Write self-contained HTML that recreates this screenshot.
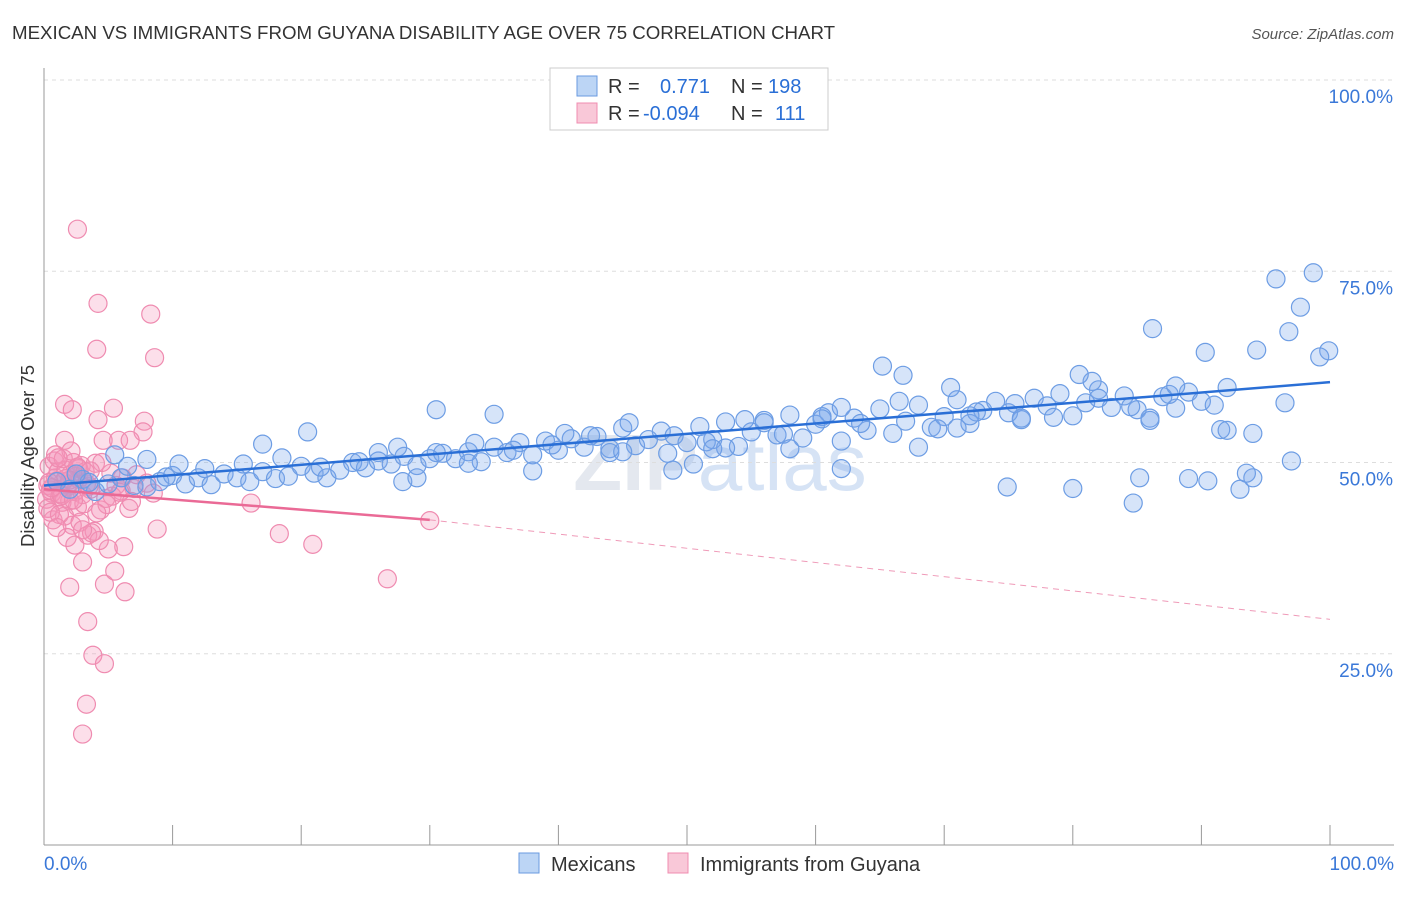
<!DOCTYPE html>
<html><head><meta charset="utf-8"><style>
body{margin:0;background:#fff;font-family:"Liberation Sans",sans-serif;}
svg text{font-family:"Liberation Sans",sans-serif;}
</style></head><body>
<svg id="chart" width="1406" height="892" xmlns="http://www.w3.org/2000/svg">
<text x="12" y="39" font-size="18.7" fill="#333">MEXICAN VS IMMIGRANTS FROM GUYANA DISABILITY AGE OVER 75 CORRELATION CHART</text>
<text x="1394" y="39" font-size="15" fill="#555" font-style="italic" text-anchor="end">Source: ZipAtlas.com</text>
<text x="34" y="456" font-size="18.5" fill="#333" text-anchor="middle" transform="rotate(-90 34 456)">Disability Age Over 75</text>
<text x="720" y="490" font-size="80" fill="#e4e8ef" text-anchor="middle" font-weight="bold">ZIP<tspan fill="#d6e3f5" font-weight="normal">atlas</tspan></text>
<g id="grid"></g><g id="axes"></g><g id="pinkpts"></g><g id="bluepts"></g><g id="lines"></g>
<g>
<rect x="550" y="68" width="278" height="62" fill="#fff" stroke="#ccc"/>
<rect x="577" y="76" width="20" height="20" fill="#bcd5f5" stroke="#6a9ae0"/>
<rect x="577" y="103" width="20" height="20" fill="#f9c8d8" stroke="#f08cb0"/>
<text x="608" y="93" font-size="20" fill="#333">R = <tspan x="660" fill="#2a6fd6">0.771</tspan><tspan x="731" fill="#333">N =</tspan><tspan x="768" fill="#2a6fd6">198</tspan></text>
<text x="608" y="120" font-size="20" fill="#333">R = <tspan x="643" fill="#2a6fd6">-0.094</tspan><tspan x="731" fill="#333">N =</tspan><tspan x="775" fill="#2a6fd6">111</tspan></text>
</g>
<g>
<rect x="519" y="853" width="20" height="20" fill="#bcd5f5" stroke="#6a9ae0"/>
<text x="551" y="871" font-size="20" fill="#333">Mexicans</text>
<rect x="668" y="853" width="20" height="20" fill="#f9c8d8" stroke="#f08cb0"/>
<text x="700" y="871" font-size="20" fill="#333">Immigrants from Guyana</text>
</g>
</svg>
<script>
const yTicks=[25,50,75,100];
const yTickLabels=["25.0%","50.0%","75.0%","100.0%"];
const xTickVals=[0,10,20,30,40,50,60,70,80,90,100];
const blueX=[95.8,98.7,97.7,96.8,86.2,99.9,99.2,65.2,66.8,90.3,94.3,84.7,85.2,74.9,27.9,48.9,
1,2,3,4,5,6,7,8,9,10,11,12,13,14,15,16,17,18,19,20,21,22,23,24,25,26,27,28,29,30,31,32,33,34,35,36,37,38,39,40,41,42,43,44,45,46,47,48,49,50,51,52,53,54,55,56,57,58,59,60,61,62,63,64,65,66,67,68,69,70,71,72,73,74,75,76,77,78,79,80,81,82,83,84,85,86,87,88,89,90,91,92,93,94,
3.5,6.5,9.5,12.5,15.5,18.5,21.5,24.5,27.5,30.5,33.5,36.5,39.5,42.5,45.5,48.5,51.5,54.5,57.5,60.5,63.5,66.5,69.5,72.5,75.5,78.5,81.5,84.5,87.5,90.5,93.5,
8,17,26,35,44,53,62,71,80,89,2.5,5.5,10.5,20.5,30.5,40.5,50.5,60.5,70.5,80.5,91.5,96.5,
52,56,58,62,68,72,76,82,86,88,92,94,97,45,38,33,29,23,13];
const blueY=[74.0,74.8,70.3,67.1,67.5,64.6,63.8,62.6,61.4,64.4,64.7,44.7,48.0,46.8,47.5,49.0,
47.5,46.5,47.8,46.2,47.2,48.0,47.0,46.8,47.5,48.3,47.2,48.0,47.1,48.5,48.0,47.5,48.8,47.9,48.2,49.5,48.6,48.0,49.0,50.0,49.3,50.2,49.8,50.8,49.6,50.5,51.2,50.5,51.4,50.1,52.0,51.3,52.6,51.0,52.8,51.6,53.1,52.0,53.4,51.8,54.5,52.2,53.0,54.1,53.5,52.6,54.7,53.0,55.3,52.1,54.0,55.5,53.6,56.2,53.2,55.0,56.5,52.8,55.8,54.2,57.0,53.8,55.4,57.5,54.6,56.0,58.2,55.1,56.8,58.0,56.5,55.6,58.4,57.4,59.0,56.1,57.8,59.5,57.2,58.7,56.9,55.8,58.6,57.1,59.2,58.0,57.5,59.8,
46.5,48.0,47.4,49.5,48.1,49.2,49.8,50.6,49.4,50.1,52.0,51.3,52.5,51.6,52.3,53.5,55.2,51.2,52.7,55.6,53.7,56.0,55.1,58.0,54.4,56.6,57.7,55.9,60.6,57.3,58.9,
47.6,48.6,50.4,52.4,51.3,56.3,51.3,51.9,49.2,54.5,46.6,47.9,48.5,51.0,49.8,54.0,56.9,53.8,49.8,55.7,59.8,61.5,
54.3,57.8,51.8,55.2,51.8,57.2,52.0,56.1,55.8,58.4,55.5,60.0,54.2,53.8,50.2,51.4,48.9,49.9,48.0];
const pinkX=[2.6,4.2,8.3,4.1,8.6,3.4,3.8,4.7,3.3,3.0,26.7,30.0,20.9,18.3,16.1,2.0,6.3,4.7,5.5,3.0,8.8,6.2,5.0,1.6,2.2,4.2,5.4,7.8,7.7,4.6,5.8,6.7,1.6,
0.3,0.6,0.9,1.2,1.5,1.8,2.1,2.4,2.7,3.0,3.3,3.6,0.4,0.8,1.1,1.4,1.7,2.0,2.3,2.6,2.9,0.2,0.5,1.0,1.3,1.9,2.5,3.1,3.5,4.0,4.4,4.8,5.2,5.6,6.0,6.6,7.2,8.0,8.5,0.7,1.6,2.2,2.8,3.4,3.9,4.3,0.3,0.9,1.5,2.1,2.7,3.2,0.5,1.2,1.8,2.4,1.0,3.7,4.5,5.3,6.1,7.0,0.4,1.4,2.6,3.6,4.9,5.9,1.1,2.0,3.0,4.1,0.6,1.7,2.3,6.8];
const pinkY=[80.5,70.8,69.4,64.8,63.7,29.2,24.8,23.7,18.4,14.5,34.8,42.4,39.3,40.7,44.7,33.7,33.1,34.1,35.8,37.0,41.3,39.0,38.7,57.6,56.9,55.6,57.1,55.4,54.0,52.9,52.9,52.9,52.9,
47.0,46.0,48.0,45.5,47.5,46.8,48.5,46.2,47.8,45.8,47.2,46.5,49.5,50.2,48.8,44.8,49.0,45.0,50.0,44.2,49.6,45.2,46.4,47.6,45.9,47.1,48.2,44.6,46.9,49.9,43.8,45.3,48.6,47.0,46.3,44.0,48.4,47.3,46.0,42.5,43.0,41.8,42.2,40.5,41.0,39.8,44.0,51.0,50.5,51.5,49.2,48.8,43.5,43.2,40.2,39.2,41.5,40.8,50.0,45.6,48.0,46.6,47.4,45.7,49.4,48.9,44.5,46.1,50.6,47.7,41.2,43.4,46.7,47.9,45.1,44.9,51.8,48.3];
const blueTrend=[[0,47],[100,60.5]];
const pinkTrendSolid=[[0,46.5],[30,42.5]];
const pinkTrendDash=[[30,42.5],[100,29.5]];
const X0=44,X1=1330,Y0=845,YT=80;
const sx=v=>X0+(X1-X0)*v/100, sy=v=>Y0-(Y0-YT)*v/100;
const NS="http://www.w3.org/2000/svg";
function mk(tag,attrs,parent){const e=document.createElementNS(NS,tag);for(const k in attrs)e.setAttribute(k,attrs[k]);parent.appendChild(e);return e;}
const grid=document.getElementById('grid'),axes=document.getElementById('axes');
yTicks.forEach((t,i)=>{
 const l=mk('line',{x1:X0,x2:1394,y1:sy(t),y2:sy(t),stroke:'#ddd','stroke-dasharray':'4,4'},grid);
 
 
 const tx=mk('text',{x:1393,y:sy(t)+23,'font-size':19,fill:'#3a78d8','text-anchor':'end'},axes);
 tx.textContent=yTickLabels[i];
 
 
});
const ax=mk('line',{x1:X0,x2:X0,y1:68,y2:Y0,stroke:'#999'},axes);


const bx=mk('line',{x1:X0,x2:1394,y1:Y0,y2:Y0,stroke:'#999'},axes);


xTickVals.forEach(t=>{const l=mk('line',{x1:sx(t),x2:sx(t),y1:825,y2:Y0,stroke:'#999'},axes);
 
 });
[["0.0%",X0,'start'],["100.0%",1394,'end']].forEach(a=>{const t=mk('text',{x:a[1],y:870,'font-size':19,fill:'#3a78d8','text-anchor':a[2]},axes);t.textContent=a[0];
 
 });
const pg=document.getElementById('pinkpts');
const pn=Math.min(pinkX.length,pinkY.length);
for(let i=0;i<pn;i++){const c=mk('circle',{cx:sx(pinkX[i]),cy:sy(pinkY[i]),r:9,fill:'rgba(244,150,185,0.3)',stroke:'#ef8bb0','stroke-width':1.2},pg);
 
 }
const bg=document.getElementById('bluepts');
const bn=Math.min(blueX.length,blueY.length);
for(let i=0;i<bn;i++){const c=mk('circle',{cx:sx(blueX[i]),cy:sy(blueY[i]),r:9,fill:'rgba(120,165,235,0.3)',stroke:'#6d9de4','stroke-width':1.2},bg);
 
 }
const lg=document.getElementById('lines');
const l1=mk('line',{x1:sx(blueTrend[0][0]),y1:sy(blueTrend[0][1]),x2:sx(blueTrend[1][0]),y2:sy(blueTrend[1][1]),stroke:'#2a6fd6','stroke-width':2.5},lg);


const l2=mk('line',{x1:sx(pinkTrendSolid[0][0]),y1:sy(pinkTrendSolid[0][1]),x2:sx(pinkTrendSolid[1][0]),y2:sy(pinkTrendSolid[1][1]),stroke:'#ea6a96','stroke-width':2.5},lg);


const l3=mk('line',{x1:sx(pinkTrendDash[0][0]),y1:sy(pinkTrendDash[0][1]),x2:sx(pinkTrendDash[1][0]),y2:sy(pinkTrendDash[1][1]),stroke:'#ef9ab8','stroke-width':1,'stroke-dasharray':'6,5'},lg);


</script>
</body></html>
